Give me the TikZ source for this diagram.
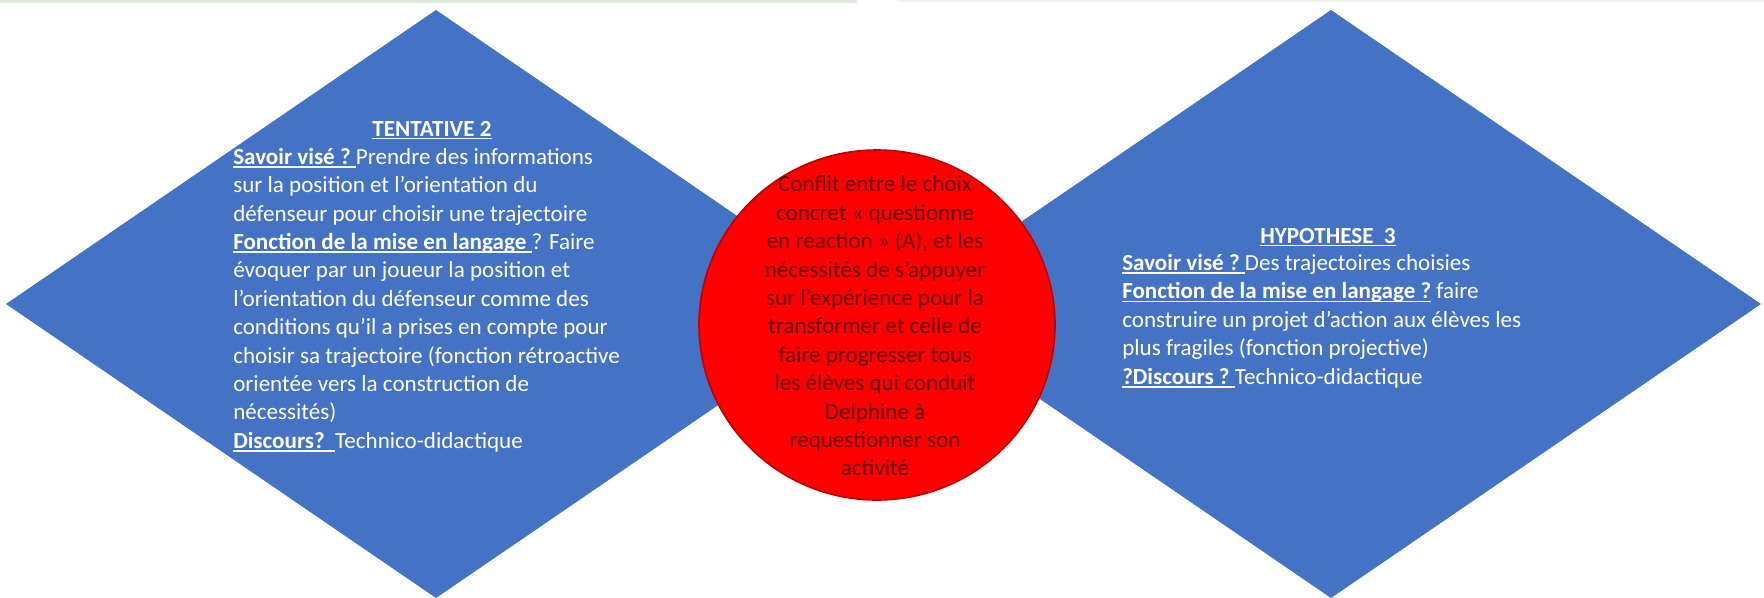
\documentclass[tikz,border=0pt]{standalone}
\usepackage{fontspec}
\setmainfont{Carlito}
\definecolor{dblue}{RGB}{68,114,196}
\definecolor{cred}{RGB}{255,0,0}
\definecolor{credge}{RGB}{190,0,0}
\definecolor{ctext}{RGB}{100,0,0}
\definecolor{topl}{RGB}{222,232,222}
\definecolor{topr}{RGB}{240,242,240}
\newcommand\myul[1]{\leavevmode\setbox0\hbox{#1}\rlap{\rule[-2.6pt]{\wd0}{1.1pt}}\box0}
\tikzset{
  txt/.style={inner sep=0pt, text=white, align=left, font=\fontsize{17.3}{21.3}\selectfont},
  ctxt/.style={inner sep=0pt, text=ctext, align=center, font=\fontsize{17.3}{21.3}\selectfont},
  diam/.style={fill=dblue},
}
\begin{document}
\begin{tikzpicture}[x=0.75pt,y=-0.75pt]
\useasboundingbox (0,0) rectangle (1764,597);
\fill[white] (0,0) rectangle (1764,597);
\fill[topl] (0,0) rectangle (857,3);
\fill[topr] (897,0) rectangle (1764,2);
% diamonds
\fill[diam] (436,10) -- (866,304) -- (436,598) -- (6,304) -- cycle;
\fill[diam] (1331,10) -- (1761,304) -- (1331,598) -- (901,304) -- cycle;
% circle
\filldraw[fill=cred, draw=credge, line width=1.2pt] (877,325) ellipse [x radius=178, y radius=175];
% left text
\node[txt, anchor=base] (tenttitle) at (432,136) {\myul{\textbf{TENTATIVE 2}}};
\node[txt, anchor=west] (tentbody) at (233,300) {\myul{\textbf{Savoir visé ?}\ }Prendre des informations\\
sur la position et l’orientation du\\
défenseur pour choisir une trajectoire\\
\myul{\textbf{Fonction de la mise en langage}\ }? Faire\\
évoquer par un joueur la position et\\
l’orientation du défenseur comme des\\
conditions qu’il a prises en compte pour\\
choisir sa trajectoire (fonction rétroactive\\
orientée vers la construction de\\
nécessités)\\
\myul{\textbf{Discours?}\ \ }Technico-didactique};
% right text
\node[txt, anchor=base] (hyptitle) at (1328,243) {\myul{\textbf{HYPOTHESE\ \ 3}}};
\node[txt, anchor=west] (hypbody) at (1122,321) {\myul{\textbf{Savoir visé ?}\ }Des trajectoires choisies\\
\myul{\textbf{Fonction de la mise en langage ?}}\ faire\\
construire un projet d’action aux élèves les\\
plus fragiles (fonction projective)\\
\myul{\textbf{?Discours ?}\ }Technico-didactique};
% circle text
\node[ctxt] (conflit) at (875,326) {Conflit entre le choix\\
concret « questionne\\
en réaction » (A), et les\\
nécessités de s’appuyer\\
sur l’expérience pour la\\
transformer et celle de\\
faire progresser tous\\
les élèves qui conduit\\
Delphine à\\
requestionner son\\
activité};
\end{tikzpicture}
\end{document}
